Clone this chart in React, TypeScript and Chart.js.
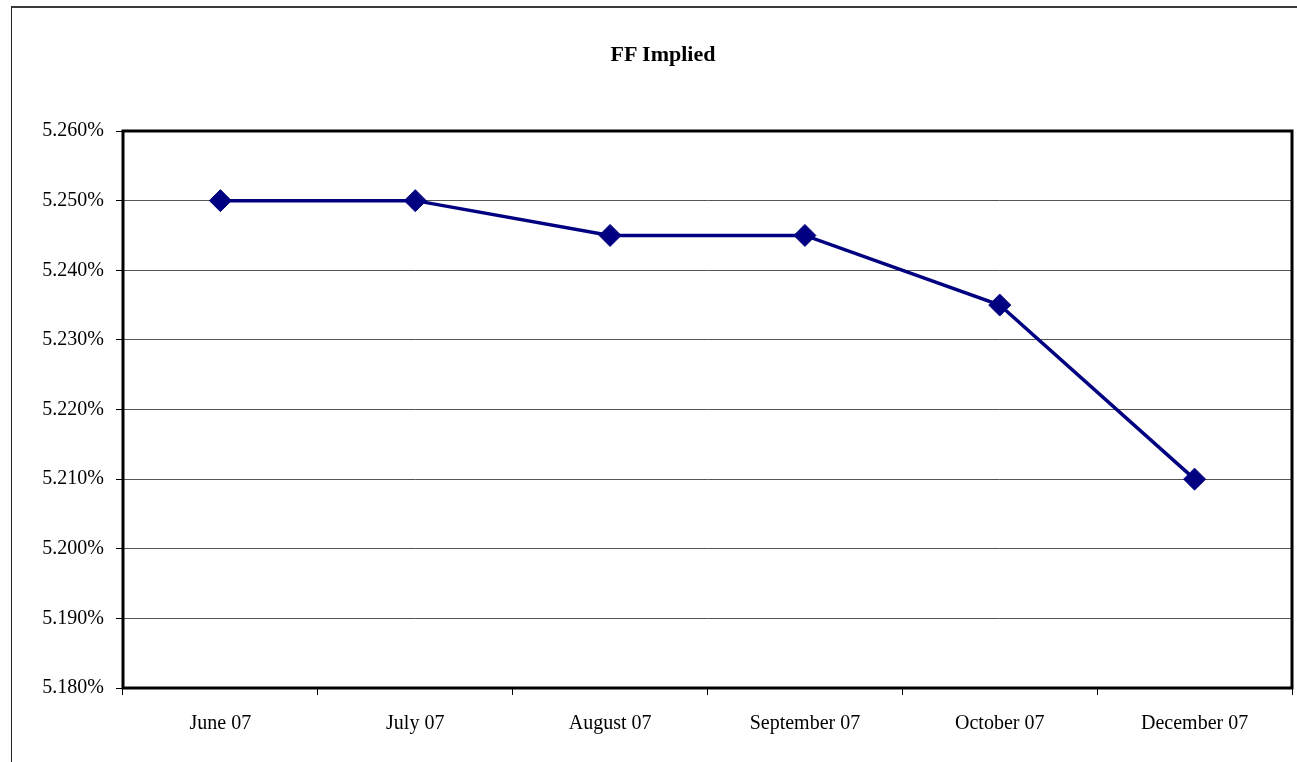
import React, { useEffect, useRef } from "react";
import { Chart, registerables } from "chart.js";

Chart.register(...registerables);

const categories = ["June 07", "July 07", "August 07", "September 07", "October 07", "December 07"];
const ffImplied = [5.25, 5.25, 5.245, 5.245, 5.235, 5.21];
const yMin = 5.18;
const yMax = 5.26;
const yStep = 0.01;
const chartTitle = "FF Implied";

const FONT = "'Liberation Serif', 'Times New Roman', serif";

const framePlugin = {
  id: "frame",
  afterDraw(chart: any) {
    const { ctx, chartArea } = chart;
    ctx.save();
    ctx.strokeStyle = "#000";
    ctx.lineWidth = 3;
    ctx.strokeRect(
      chartArea.left,
      chartArea.top,
      chartArea.right - chartArea.left,
      chartArea.bottom - chartArea.top
    );
    ctx.restore();
  },
};

export default function App() {
  const ref = useRef<HTMLCanvasElement | null>(null);

  useEffect(() => {
    if (!ref.current) return;
    const chart = new Chart(ref.current, {
      type: "line",
      data: {
        labels: categories,
        datasets: [
          {
            label: chartTitle,
            data: ffImplied,
            borderColor: "#000080",
            backgroundColor: "#000080",
            borderWidth: 3.5,
            pointStyle: "rectRot",
            pointRadius: 11,
            pointBorderWidth: 1,
            pointBorderColor: "#000080",
            pointBackgroundColor: "#000080",
            tension: 0,
          },
        ],
      },
      options: {
        animation: false,
        responsive: false,
        layout: { autoPadding: false, padding: { left: 0, right: 5, top: 131, bottom: 0 } },
        plugins: {
          legend: { display: false },
          tooltip: { enabled: false },
          title: { display: false },
        },
        scales: {
          x: {
            offset: true,
            afterFit: (scale: any) => {
              scale.height = 762 - 688;
              scale.paddingLeft = 0;
              scale.paddingRight = 0;
            },
            grid: {
              offset: true,
              drawOnChartArea: false,
              drawTicks: true,
              tickLength: 7,
              color: "#000",
              lineWidth: 1,
            },
            border: { display: false },
            ticks: {
              color: "#000",
              padding: 17,
              maxRotation: 0,
              font: { family: FONT, size: 20 },
            },
          },
          y: {
            min: yMin,
            max: yMax,
            afterFit: (scale: any) => {
              scale.width = 123;
            },
            grid: {
              color: "#555",
              lineWidth: 1,
              tickLength: 7,
              tickColor: "#000",
            },
            border: { display: false },
            ticks: {
              stepSize: yStep,
              color: "#000",
              padding: 12,
              font: { family: FONT, size: 20 },
              callback: (v: any) => Number(v).toFixed(3) + "%",
            },
          },
        },
      },
      plugins: [framePlugin],
    });
    return () => chart.destroy();
  }, []);

  return (
    <div
      style={{
        position: "absolute",
        left: 0,
        top: 0,
        width: 1297,
        height: 762,
        overflow: "hidden",
        background: "#fff",
      }}
    >
      <div
        style={{
          position: "absolute",
          left: 11,
          top: 6,
          width: 1400,
          height: 900,
          borderTop: "2px solid #3a3a3a",
          borderLeft: "1px solid #222",
        }}
      />
      <canvas
        ref={ref}
        width={1297}
        height={762}
        style={{ position: "absolute", left: 0, top: 0 }}
      />
      <div
        style={{
          position: "absolute",
          left: 463,
          width: 400,
          top: 40,
          textAlign: "center",
          fontFamily: FONT,
          fontWeight: "bold",
          fontSize: 22,
          lineHeight: "28px",
          color: "#000",
        }}
      >
        {chartTitle}
      </div>
    </div>
  );
}
